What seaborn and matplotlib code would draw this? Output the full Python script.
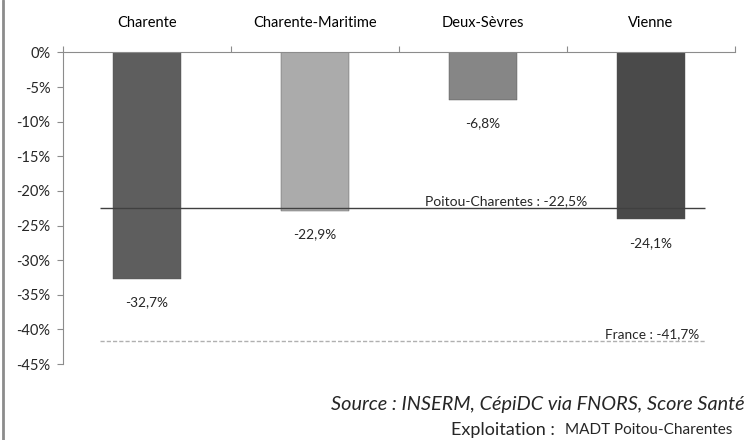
"""
plot.py
-------
Evolution des taux de mortalite par departement (Poitou-Charentes).
"""

import matplotlib

matplotlib.use("Agg")
import matplotlib.pyplot as plt
import pandas as pd
import seaborn as sns
from matplotlib.lines import Line2D
from matplotlib.ticker import FuncFormatter, MultipleLocator

DEPARTEMENTS = ["Charente", "Charente-Maritime", "Deux-Sèvres", "Vienne"]
EVOLUTION = [-32.7, -22.9, -6.8, -24.1]
BAR_LABELS = ["-32,7%", "-22,9%", "-6,8%", "-24,1%"]
REGION_VALUE = -22.5
REGION_LABEL = "Poitou-Charentes : -22,5%"
FRANCE_VALUE = -41.7
FRANCE_LABEL = "France : -41,7%"
BAR_COLORS = ["#5e5e5e", "#ababab", "#868686", "#4a4a4a"]

sns.set_style("white")
plt.rcParams["font.family"] = ["Lato", "DejaVu Sans"]

df = pd.DataFrame({"dep": DEPARTEMENTS, "val": EVOLUTION})

fig = plt.figure(figsize=(7.47, 4.40), dpi=100)
ax = fig.add_axes([63 / 747, 1 - 364 / 440, 672 / 747, (364 - 52.5) / 440])

sns.barplot(data=df, x="dep", y="val", hue="dep", palette=BAR_COLORS,
            width=0.41, legend=False, ax=ax, saturation=1,
            edgecolor="#505050", linewidth=0.3)

ax.set_ylim(-45, 0)
ax.set_xlim(-0.5, 3.5)
ax.yaxis.set_major_locator(MultipleLocator(5))
ax.yaxis.set_major_formatter(FuncFormatter(lambda v, _: f"{v:.0f}%"))
ax.set_xlabel("")
ax.set_ylabel("")

# category names on top, tick marks at the boundaries
ax.xaxis.tick_top()
ax.set_xticks(range(len(DEPARTEMENTS)))
ax.set_xticklabels(DEPARTEMENTS)
ax.set_xticks([-0.5, 0.5, 1.5, 2.5, 3.5], minor=True)
ax.tick_params(axis="x", which="major", length=0, pad=16.5, labelsize=10.5, colors="black")
ax.tick_params(axis="x", which="minor", length=4, color="#8c8c8c", width=0.8, top=True)
ax.tick_params(axis="y", length=4, color="#8c8c8c", width=0.8, labelsize=10.5, pad=5, left=True)

for side in ["bottom", "right"]:
    ax.spines[side].set_visible(False)
for side in ["left", "top"]:
    ax.spines[side].set_color("#8c8c8c")
    ax.spines[side].set_linewidth(0.8)

for i, (v, lab) in enumerate(zip(EVOLUTION, BAR_LABELS)):
    ax.annotate(lab, (i, v), xytext=(0, -17), textcoords="offset points",
                ha="center", va="center", fontsize=9.8)

# reference lines
ax.hlines(REGION_VALUE, -0.28, 3.32, color="#404040", linewidth=1, zorder=5)
ax.text(2.62, REGION_VALUE + 0.2, REGION_LABEL, ha="right", va="bottom", fontsize=10)
ax.hlines(FRANCE_VALUE, -0.28, 3.32, color="#b0b0b0", linewidth=1,
          linestyles=(0, (3, 1.5)), zorder=5)
ax.text(3.29, FRANCE_VALUE + 0.2, FRANCE_LABEL, ha="right", va="bottom", fontsize=9.8)

fig.text(745 / 747, 1 - 404 / 440, "Source : INSERM, CépiDC via FNORS, Score Santé",
         ha="right", va="center", fontsize=14.3, style="italic")
fig.text(555 / 747, 1 - 430 / 440, "Exploitation :", ha="right", va="center", fontsize=13)
fig.text(565 / 747, 1 - 430 / 440, "MADT Poitou-Charentes", ha="left", va="center", fontsize=11)

fig.add_artist(Line2D([2.5 / 747, 2.5 / 747], [0, 1], color="#8c8c8c", linewidth=2))

fig.savefig("out.png", dpi=100)
